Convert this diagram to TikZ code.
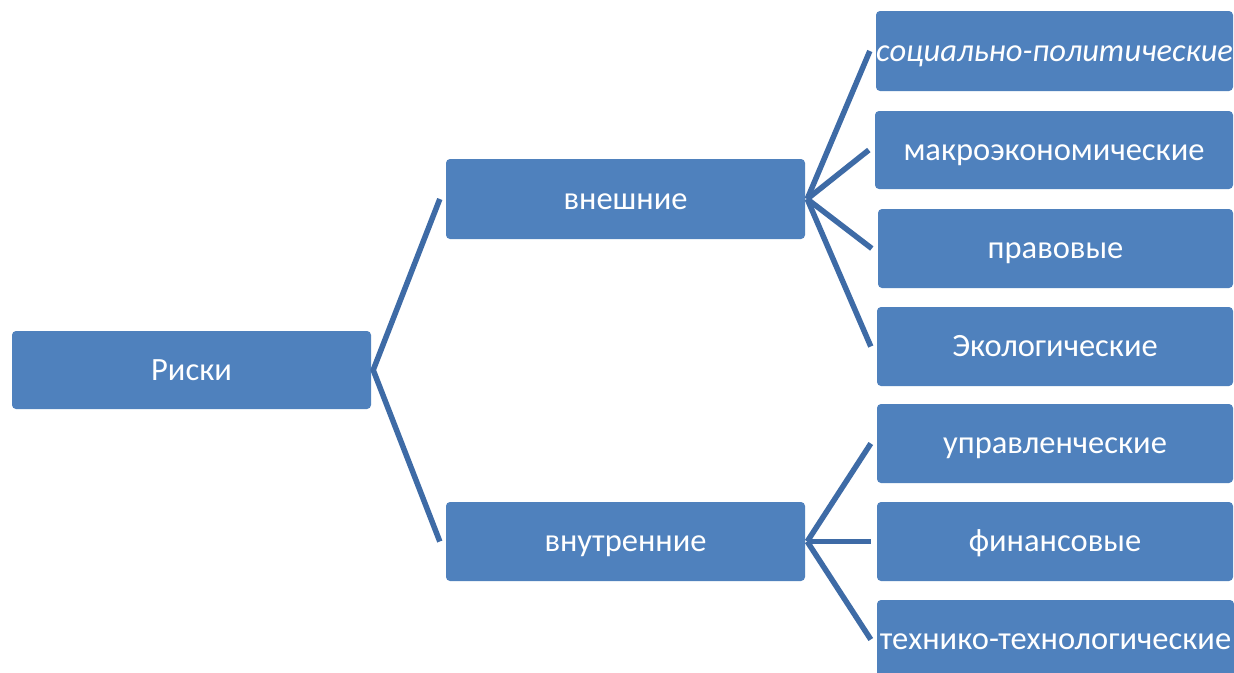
\documentclass[tikz,border=0pt]{standalone}
\usepackage{fontspec}
\setmainfont{Carlito}
\definecolor{boxblue}{HTML}{4F81BD}
\definecolor{lineblue}{HTML}{3E6BA6}
\tikzset{
  rbox/.style={fill=boxblue, draw=none, rounded corners=4pt, text=white,
    font=\fontsize{32.5}{36}\selectfont, inner sep=0pt, anchor=center,
    text height=20pt, text depth=0pt},
  conn/.style={draw=lineblue, line width=5.5pt}
}
\begin{document}
\begin{tikzpicture}[x=1pt,y=-1pt]
\clip (0,0) rectangle (1234,672);
\fill[white] (0,0) rectangle (1234,672);
\node[rbox, minimum width=359pt, minimum height=78pt] (r) at (191.5,370) {Риски};
\node[rbox, minimum width=359pt, minimum height=80pt] (a) at (625.5,199) {внешние};
\node[rbox, minimum width=359pt, minimum height=79pt] (b) at (625.5,541.5) {внутренние};
\node[rbox, minimum width=357pt, minimum height=80pt] (c1) at (1054.5,51) {\itshape социально-политические};
\node[rbox, minimum width=358pt, minimum height=78pt] (c2) at (1054,150) {макроэкономические};
\node[rbox, minimum width=355pt, minimum height=79pt] (c3) at (1055.5,248.5) {правовые};
\node[rbox, minimum width=356pt, minimum height=79pt] (c4) at (1055,346.5) {Экологические};
\node[rbox, minimum width=356pt, minimum height=79pt] (c5) at (1055,443.5) {управленческие};
\node[rbox, minimum width=356pt, minimum height=79pt] (c6) at (1055,541.5) {финансовые};
\node[rbox, minimum width=357pt, minimum height=79pt] (c7) at (1055.5,639.5) {технико-технологические};
\draw[conn] ([xshift=-6pt]a.west) -- ([xshift=2pt]r.east) -- ([xshift=-6pt]b.west);
\foreach \c in {c1,c2,c3,c4}{
  \draw[conn] ([xshift=2pt]a.east) -- ([xshift=-6pt]\c.west);
}
\foreach \c in {c5,c6,c7}{
  \draw[conn] ([xshift=2pt]b.east) -- ([xshift=-6pt]\c.west);
}
\end{tikzpicture}
\end{document}
